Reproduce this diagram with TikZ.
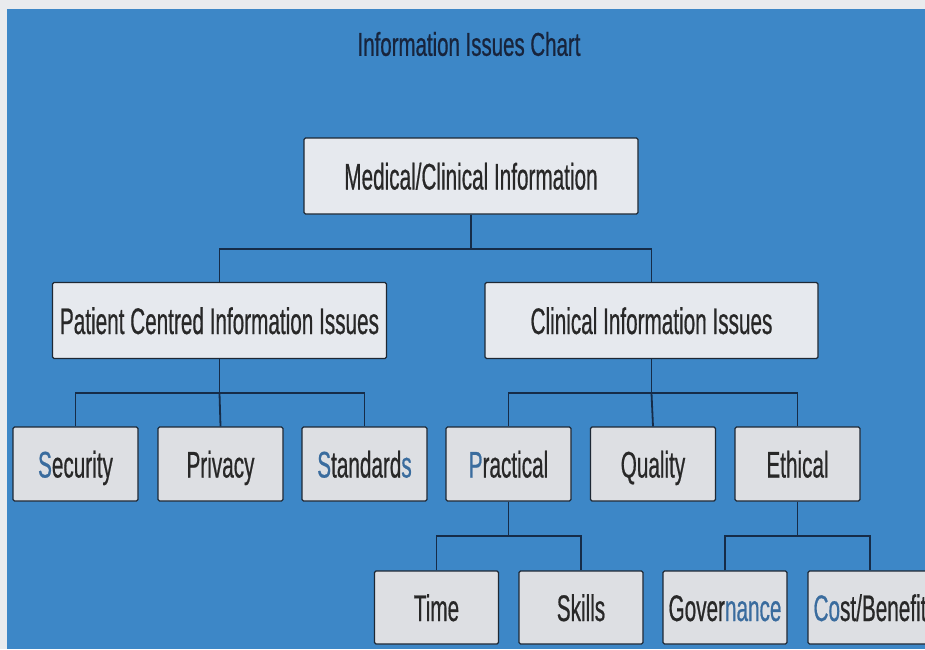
\documentclass[tikz,border=0pt]{standalone}
\usepackage{fontspec}
\newfontfamily\boxfont[FakeStretch=0.56,FakeBold=0.5]{Liberation Sans}
\newfontfamily\titlefont[FakeStretch=0.62,FakeBold=0.6]{Liberation Sans}
\definecolor{bgblue}{RGB}{61,135,199}
\definecolor{margin}{RGB}{233,235,238}
\definecolor{boxfill}{RGB}{221,223,227}
\definecolor{rootfill}{RGB}{230,233,238}
\definecolor{boxline}{RGB}{30,40,52}
\definecolor{conncol}{RGB}{22,44,72}
\definecolor{txt}{RGB}{40,40,40}
\definecolor{tintblue}{RGB}{58,108,158}
\definecolor{titlecol}{RGB}{24,36,60}
\newcommand{\tb}[1]{\textcolor{tintblue}{#1}}
\begin{document}
\begin{tikzpicture}[x=1pt,y=-1pt,
  box/.style={draw=boxline, line width=1.3pt, fill=boxfill, rounded corners=1.5pt,
    inner sep=0pt, text=txt, font=\boxfont\fontsize{37}{40}\selectfont,
    text height=27pt, text depth=0pt,
    minimum width=125pt, minimum height=74pt},
  wide/.style={box, minimum width=334pt, minimum height=76pt},
  conn/.style={draw=conncol, line width=1.8pt}]
\useasboundingbox (0,0) rectangle (925,649);
\fill[margin] (0,0) rectangle (925,649);
\fill[bgblue] (7,9) rectangle (925,649);
\node[text=titlecol, font=\titlefont\fontsize{33}{36}\selectfont] (title) at (469,44) {Information Issues Chart};
% level 0
\node[wide, fill=rootfill] (root) at (471,176) {Medical/Clinical Information};
% level 1
\node[wide, fill=rootfill] (patient) at (219.5,320.5) {Patient Centred Information Issues};
\node[wide, fill=rootfill, minimum width=333pt] (clinical) at (651.5,320.5) {Clinical Information Issues};
% level 2
\node[box] (security) at (75.5,464) {\tb{S}ecurity};
\node[box] (privacy) at (220.5,464) {Privacy};
\node[box] (standards) at (364.5,464) {\tb{S}tandard\tb{s}};
\node[box] (practical) at (508.5,464) {\tb{P}ractical};
\node[box] (quality) at (653,464) {Quality};
\node[box] (ethical) at (797.5,464) {Ethical};
% level 3
\node[box, minimum width=124pt, minimum height=73pt] (time) at (436.5,607.5) {Time};
\node[box, minimum width=124pt, minimum height=73pt] (skills) at (581,607.5) {Skills};
\node[box, minimum width=124pt, minimum height=73pt] (gov) at (725,607.5) {Gover\tb{nance}};
\node[box, minimum width=124pt, minimum height=73pt] (cost) at (870,607.5) {\tb{Co}st/Benefit};
% bus points
\path (root.south) ++(0,34) coordinate (b0);
\path (patient.south) ++(0,34) coordinate (b1);
\path (clinical.south) ++(0,34) coordinate (b2);
\path (practical.south) ++(0,34) coordinate (b3);
\path (ethical.south) ++(0,34) coordinate (b4);
% connectors
\draw[conn] (root.south) -- (b0);
\draw[conn] (patient.north) |- (b0) -| (clinical.north);
\draw[conn] (patient.south) -- (b1);
\draw[conn] (security.north) |- (b1) -| (standards.north);
\draw[conn] (b1) -- (privacy.north);
\draw[conn] (clinical.south) -- (b2);
\draw[conn] (practical.north) |- (b2) -| (ethical.north);
\draw[conn] (b2) -- (quality.north);
\draw[conn] (practical.south) -- (b3);
\draw[conn] (time.north) |- (b3) -| (skills.north);
\draw[conn] (ethical.south) -- (b4);
\draw[conn] (gov.north) |- (b4) -| (cost.north);
\end{tikzpicture}
\end{document}
